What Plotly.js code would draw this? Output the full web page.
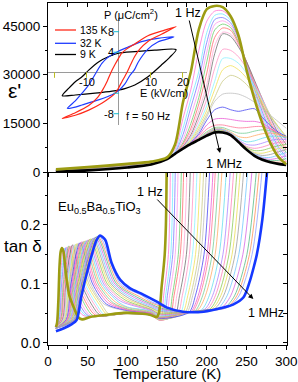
<!DOCTYPE html>
<html><head><meta charset="utf-8">
<script src="https://cdn.plot.ly/plotly-3.0.1.min.js"></script>
<style>html,body{margin:0;padding:0;background:#fff;}#chart{width:298px;height:382px;}</style>
</head><body><div id="chart"></div>
<script>
// ---------- data ----------
const freqLabels = ['1 Hz','1.6 Hz','2.5 Hz','4 Hz','6.3 Hz','10 Hz','16 Hz','25 Hz','40 Hz','63 Hz','100 Hz','160 Hz','250 Hz','400 Hz','630 Hz','1 kHz','1.6 kHz','2.5 kHz','4 kHz','6.3 kHz','10 kHz','16 kHz','25 kHz','40 kHz','63 kHz','100 kHz','160 kHz','250 kHz','400 kHz','630 kHz','1 MHz'];

// epsilon' (top panel), common temperature grid (K)
const epsT = [10,50,100,130,150,160,170,180,190,200,210,220,230,240,250,260,270,280,290,300];
const epsCurves = [
 [800,1500,2500,3200,4500,8500,21500,31000,44000,50200,51200,50800,48000,42000,31500,22500,15000,9000,4700,2400],
 [780,1470,2460,3170,4450,7000,16500,25500,37500,46500,49600,49700,47500,42000,32500,24000,16500,10500,6000,3200],
 [750,1430,2430,3140,4430,6300,13500,22500,31000,43000,48300,48700,46800,41500,33000,25000,17500,11500,7000,3900],
 [730,1400,2390,3110,4400,6000,11500,20000,28500,40000,47000,47600,46000,41000,33500,25800,18500,12500,7800,4600],
 [710,1370,2350,3080,4380,5800,10000,17500,25500,37000,45500,46600,45200,40500,33800,26500,19500,13500,8700,5300],
 [680,1330,2320,3050,4350,5700,9000,15000,23000,34000,43800,45600,44500,40000,34000,27000,20300,14500,9600,6000],
 [660,1300,2280,3020,4330,5600,8500,13500,21000,30500,41500,44400,43700,39500,34000,27500,21000,15300,10500,6800],
 [640,1270,2240,2990,4300,5600,8000,12500,19000,27000,39000,43100,42500,39000,34000,28000,21800,16000,11300,7600],
 [610,1230,2210,2960,4280,5600,7800,11500,17500,25000,36500,42600,41800,38500,34000,28300,22500,16800,12000,8500],
 [590,1200,2170,2930,4250,5600,7600,11000,16000,22500,32000,37800,37500,35500,32000,27500,22500,17500,13000,9500],
 [570,1170,2130,2900,4230,5600,7500,10500,14700,20500,28000,35000,35000,33500,30500,26500,22000,17500,13500,10000],
 [540,1130,2100,2870,4200,5600,7400,10000,14000,19000,25500,31500,32800,31500,29000,25500,21500,17500,14000,10500],
 [520,1100,2060,2840,4180,5600,7300,9600,13200,17800,23000,28000,29800,29000,27000,24000,20500,17000,14000,11000],
 [500,1070,2030,2810,4150,5600,7300,9300,12500,17000,21800,24000,24300,24000,23000,21500,19500,17500,15500,13500],
 [470,1030,1990,2780,4130,5600,7300,9100,11800,16000,19200,20000,19200,18700,19200,19500,16800,14300,12300,11000],
 [450,1000,1960,2750,4100,5600,7300,9000,11300,14500,16300,16500,16200,15800,15600,15600,15000,13500,11800,10300],
 [430,970,1920,2720,4080,5600,7300,8900,10800,13200,14400,14500,14000,13600,13700,14000,14000,13200,12000,10500],
 [400,930,1880,2690,4050,5600,7300,8800,10500,12400,13700,13700,12800,12000,12000,12600,13000,12700,11800,10600],
 [380,900,1840,2660,4030,5600,7300,8800,10300,12000,13400,13300,12300,10900,10600,11200,11800,12000,11600,10800],
 [360,870,1800,2630,4020,5600,7250,8750,10200,11800,13200,13100,12000,10300,9300,9600,10400,11000,11000,10600],
 [330,830,1770,2600,4000,5600,7250,8750,10100,11700,13000,12900,11900,9900,8500,8300,8900,9700,10100,10000],
 [310,800,1730,2570,4000,5600,7200,8700,10000,11600,12900,12800,11800,9700,7900,7300,7700,8500,9100,9300],
 [290,770,1690,2540,4000,5600,7200,8700,10000,11500,12800,12700,11700,9600,7600,6600,6700,7400,8100,8500],
 [260,730,1660,2510,4000,5600,7200,8700,9950,11400,12700,12600,11700,9500,7400,6000,5800,6400,7200,7700],
 [240,700,1620,2480,4000,5600,7200,8700,9950,11400,12600,12500,11600,9400,7300,5700,5100,5400,6200,6900],
 [220,670,1580,2450,4000,5600,7200,8700,9950,11300,12500,12500,11600,9400,7200,5500,4600,4500,5200,6000],
 [190,630,1550,2420,4000,5600,7200,8700,9900,11300,12400,12400,11500,9300,7100,5300,4300,3900,4300,5000],
 [170,600,1510,2390,4000,5600,7200,8700,9900,11300,12400,12400,11500,9300,7000,5200,4100,3500,3600,4100],
 [150,570,1470,2360,4000,5600,7200,8700,9900,11200,12300,12300,11500,9200,7000,5100,3900,3200,3000,3300],
 [120,530,1440,2330,4000,5600,7200,8700,9900,11200,12300,12300,11400,9200,6900,5000,3800,3100,2700,2700],
 [100,500,1400,2300,4000,5600,7200,8700,9900,11200,12200,12200,11400,9200,6900,5000,3800,3000,2500,2200]
];

// tan delta (bottom panel): temperatures and values per frequency
const tanT = [
 [10,11.5,13,14.5,16,17.5,19.5,21.5,23.5,27,32,38,43,53,75,95,115,128,137,139.5,141.5,143,145,147,148.5,149.5],
 [10,12.8,15.1,19.6,25.8,35.4,45.4,100,130,141.7,145.6,151.6,154.1],
 [10,13.6,16.1,21.2,28.2,38.4,48.4,100,130,144,148.1,154.6,157.4],
 [10,14.4,17.2,22.8,30.5,41.3,51.3,100,130,145.8,150.3,157.1,160.4],
 [10,15.2,18.3,24.4,32.8,44.2,54.2,100,130,140,148.2,153.1,160.2,163.9],
 [10,16,19.3,26,35.2,47.2,57.2,100,130,140,151.4,156.5,164.1,168.1],
 [10,16.8,20.4,27.6,37.5,50.1,60.1,100,130,140,153.2,158.7,166.6,171],
 [10,17.6,21.5,29.2,39.8,53,63,100,130,140,156.3,162.2,170.4,175.2],
 [10,18.4,22.5,30.8,42.2,56,66,100,130,140,159.5,165.6,174.3,179.4],
 [10,19.2,23.6,32.4,44.5,58.9,68.9,100,130,140,162.6,169.1,178.1,183.7],
 [10,20,24.7,34,46.8,61.8,71.8,100,130,140,165.7,172.6,181.9,187.9],
 [10,20.8,25.7,35.6,49.2,64.8,74.8,100,130,140,168.9,176,185.8,192.1],
 [10,21.6,26.8,37.2,51.5,67.7,77.7,100,130,140,172,179.5,189.6,196.3],
 [10,22.4,27.9,38.8,53.8,70.6,100,130,140,174.3,182.2,192.6,199.7],
 [10,23.2,28.9,40.4,56.2,73.6,100,130,140,177.5,185.6,196.5,203.9],
 [10,24,30,42,58.5,76.5,100,130,140,170,180.6,189.1,200.3,208.2],
 [10,24.8,31.1,43.6,60.8,79.4,100,130,140,170,182.4,191.3,202.8,211.1],
 [10,25.6,32.1,45.2,63.2,82.4,100,130,140,170,185.6,194.7,206.7,215.3],
 [10,26.4,33.2,46.8,65.5,85.3,100,130,140,170,188.7,198.2,210.5,219.5],
 [10,27.2,34.3,48.4,67.8,88.2,100,130,140,170,193.1,203,215.6,225],
 [10,28,35.3,50,70.2,91.2,130,140,170,197.1,207.2,220.3,230],
 [10,28.8,36.4,51.6,72.5,94.1,130,140,170,200.2,210.7,224.1,234.3],
 [10,29.6,37.5,53.2,74.8,97,130,140,170,203.3,214.2,227.9,238.5],
 [10,30.4,38.5,54.8,77.2,100,130,140,170,206.5,217.6,231.8,242.7],
 [10,31.2,39.6,56.4,79.5,102.9,130,140,170,209.6,221.1,235.6,246.9],
 [10,32,40.7,58,81.8,105.8,130,140,170,200,213.6,225.5,240.3,252],
 [10,32.8,41.7,59.6,84.2,108.8,130,140,170,200,218,230.1,245.4,257.4],
 [10,33.6,42.8,61.2,86.5,111.7,130,140,170,200,222.4,234.9,250.5,263],
 [10,34.4,43.9,62.8,88.8,114.6,130,140,170,200,224.9,237.8,253.7,266.6],
 [10,35.2,44.9,64.4,91.2,117.6,130,140,170,200,227.5,240.6,257,270.2],
 [10,20,30,36,42,49,57,61,65.5,72,80,91,103,120,137,150,170,196,221,233,246,254,259,263,270,276.5]
];
const tanV = [
 [0.027,0.035,0.07,0.13,0.155,0.161,0.155,0.13,0.107,0.08,0.062,0.044,0.04,0.044,0.048,0.051,0.05,0.048,0.044,0.05,0.068,0.094,0.12,0.15,0.2,0.30],
 [0.025,0.04,0.10,0.161,0.10,0.062,0.046,0.05,0.047,0.040,0.08,0.15,0.30],
 [0.025,0.04,0.10,0.161,0.10,0.062,0.046,0.05,0.047,0.040,0.08,0.15,0.30],
 [0.025,0.04,0.10,0.162,0.10,0.062,0.046,0.05,0.047,0.041,0.08,0.15,0.30],
 [0.025,0.04,0.10,0.163,0.10,0.062,0.046,0.05,0.047,0.039,0.041,0.08,0.15,0.30],
 [0.025,0.04,0.10,0.164,0.10,0.063,0.046,0.05,0.047,0.039,0.043,0.08,0.15,0.30],
 [0.025,0.04,0.10,0.164,0.10,0.063,0.047,0.05,0.047,0.039,0.043,0.08,0.15,0.30],
 [0.025,0.04,0.10,0.165,0.10,0.063,0.047,0.051,0.047,0.039,0.045,0.08,0.15,0.30],
 [0.025,0.04,0.10,0.166,0.10,0.063,0.047,0.051,0.048,0.040,0.046,0.08,0.15,0.30],
 [0.025,0.04,0.10,0.166,0.10,0.064,0.047,0.051,0.048,0.040,0.047,0.08,0.15,0.30],
 [0.025,0.04,0.10,0.167,0.10,0.064,0.047,0.052,0.048,0.040,0.048,0.08,0.15,0.30],
 [0.025,0.04,0.10,0.168,0.10,0.065,0.048,0.052,0.048,0.040,0.050,0.08,0.15,0.30],
 [0.025,0.04,0.10,0.168,0.10,0.065,0.048,0.053,0.049,0.041,0.051,0.08,0.15,0.30],
 [0.025,0.04,0.10,0.169,0.10,0.066,0.054,0.049,0.041,0.051,0.08,0.15,0.30],
 [0.025,0.04,0.10,0.170,0.10,0.066,0.055,0.050,0.042,0.052,0.08,0.15,0.30],
 [0.025,0.04,0.10,0.171,0.10,0.067,0.056,0.050,0.043,0.050,0.054,0.08,0.15,0.30],
 [0.025,0.04,0.10,0.171,0.10,0.068,0.057,0.051,0.043,0.050,0.054,0.08,0.15,0.30],
 [0.025,0.04,0.10,0.172,0.10,0.068,0.058,0.052,0.044,0.050,0.055,0.08,0.15,0.30],
 [0.025,0.04,0.10,0.173,0.10,0.069,0.060,0.053,0.045,0.050,0.056,0.08,0.15,0.30],
 [0.025,0.04,0.10,0.173,0.10,0.070,0.061,0.054,0.046,0.051,0.056,0.08,0.15,0.30],
 [0.025,0.04,0.10,0.174,0.10,0.071,0.055,0.048,0.051,0.057,0.08,0.15,0.30],
 [0.025,0.04,0.10,0.175,0.10,0.072,0.056,0.049,0.051,0.057,0.08,0.15,0.30],
 [0.025,0.04,0.10,0.176,0.10,0.073,0.057,0.050,0.052,0.057,0.08,0.15,0.30],
 [0.025,0.04,0.10,0.176,0.10,0.074,0.059,0.052,0.052,0.058,0.08,0.15,0.30],
 [0.025,0.04,0.10,0.177,0.10,0.075,0.060,0.054,0.052,0.058,0.08,0.15,0.30],
 [0.025,0.04,0.10,0.178,0.10,0.076,0.062,0.056,0.053,0.056,0.058,0.08,0.15,0.30],
 [0.025,0.04,0.10,0.179,0.10,0.077,0.064,0.058,0.053,0.056,0.059,0.08,0.15,0.30],
 [0.025,0.04,0.10,0.180,0.10,0.078,0.066,0.060,0.053,0.056,0.060,0.08,0.15,0.30],
 [0.025,0.04,0.10,0.180,0.10,0.079,0.068,0.063,0.053,0.055,0.060,0.08,0.15,0.30],
 [0.025,0.04,0.10,0.181,0.10,0.081,0.070,0.065,0.053,0.054,0.061,0.08,0.15,0.30],
 [0.02,0.025,0.032,0.039,0.079,0.119,0.158,0.174,0.182,0.175,0.136,0.107,0.093,0.082,0.07,0.06,0.053,0.053,0.06,0.065,0.077,0.104,0.128,0.15,0.21,0.30]
];

// inset hysteresis loops P (uC/cm2) vs E (kV/cm), f = 50 Hz
const loop135E = [18,14.4,9.2,5.1,2.5,1,0,-1.1,-2.4,-3.5,-5,-6.5,-9.3,-13.5,-17.6,-13.5,-9.3,-5.1,-2.5,-1,0,1.1,2.6,3.8,5.1,6.5,9.2,13.4,18];
const loop135P = [9.0,8.3,7.2,5.6,4.6,3.8,2.8,1.6,0,-1.6,-3.4,-4.8,-6.4,-7.8,-8.9,-8.3,-7.3,-5.9,-4.8,-4.0,-3.0,-1.7,0,1.6,3.2,4.5,6.1,7.5,9.0];
const loop32E = [17.3,12.3,7.2,3,0,-2,-3.5,-5.2,-7.3,-9.3,-11.4,-13.5,-16,-13.5,-11.4,-6.25,-2,0,2,3.5,5,6.1,9.2,12.3,17.3];
const loop32P = [7.0,6.7,6.05,5.0,4.2,3.5,2.9,1.8,-0.3,-2.4,-4.0,-5.5,-6.95,-6.7,-6.3,-5.3,-4.3,-3.5,-2.2,-0.6,0.6,2.0,4.6,6.0,7.0];
const loop9E = [18,11.3,5.1,0,-3.2,-6.25,-9.3,-11.4,-13.5,-15.5,-17.6,-13.5,-7.3,-2,2,5.1,9.2,13.4,16,18];
const loop9P = [4.5,4.4,4.1,3.8,3.1,2.1,0.5,-0.8,-1.75,-3.0,-4.5,-4.35,-4.0,-3.6,-3.1,-2.4,-0.8,1.5,3.0,4.5];
const insetETicks = [-20,-10,10,20];
const insetPTicks = [-8,-4,4,8];
const tanTickVals = [0, 0.1, 0.2];
const tanTickText = ['0.0', '0.1', '0.2'];
const epsTickVals = [0, 15000, 30000, 45000];
const epsTickText = ['0', '15000', '30000', '45000'];

// ---------- styles ----------
const thinColors = ['#ff70d0','#70e8ff','#7878ff','#ff94ea','#66cc66','#ff6666','#ffa4d2','#6a6a6a','#ff90c4','#88f0ff','#f0e050','#c8c880','#bcbcbc','#4040f0','#ea55d4','#ff7090','#70cc90','#ffa860','#60dcec','#a880ff','#ff7cb8','#88c850','#e8dc50','#9a9a9a','#6cc4ff','#d460e4','#50b880','#ff8c50','#8c9cff'];
const OLIVE = '#9c9c12', BLUE = '#1538ff';
const FONT = 'Liberation Sans, Arial, sans-serif';

const traces = [];
const last = freqLabels.length - 1;
for (let i = 1; i < last; i++) {
  traces.push({x: epsT, y: epsCurves[i], xaxis: 'x2', yaxis: 'y2', mode: 'lines', name: freqLabels[i], opacity: 0.85,
    line: {color: thinColors[i-1], width: 0.9, shape: 'spline', smoothing: 0.8}, hoverinfo: 'skip'});
}
traces.push({x: epsT, y: epsCurves[last], xaxis: 'x2', yaxis: 'y2', mode: 'lines', name: freqLabels[last],
  line: {color: '#000', width: 2.6, shape: 'spline', smoothing: 0.8}});
traces.push({x: epsT, y: epsCurves[0], xaxis: 'x2', yaxis: 'y2', mode: 'lines', name: freqLabels[0],
  line: {color: OLIVE, width: 2.6, shape: 'spline', smoothing: 0.8}});
for (let i = 1; i < last; i++) {
  traces.push({x: tanT[i], y: tanV[i], xaxis: 'x', yaxis: 'y', mode: 'lines', name: freqLabels[i], opacity: 0.85,
    line: {color: thinColors[i-1], width: 0.9, shape: 'spline', smoothing: 0.8}, hoverinfo: 'skip'});
}
traces.push({x: tanT[0], y: tanV[0], xaxis: 'x', yaxis: 'y', mode: 'lines', name: freqLabels[0],
  line: {color: OLIVE, width: 2.6, shape: 'spline', smoothing: 0.8}});
traces.push({x: tanT[last], y: tanV[last], xaxis: 'x', yaxis: 'y', mode: 'lines', name: freqLabels[last],
  line: {color: BLUE, width: 2.6, shape: 'spline', smoothing: 0.8}});
// placeholders so the mirror axes are drawn
traces.push({x: [null], y: [null], xaxis: 'x', yaxis: 'y3', mode: 'lines'});
traces.push({x: [null], y: [null], xaxis: 'x2', yaxis: 'y4', mode: 'lines'});
traces.push({x: [null], y: [null], xaxis: 'x3', yaxis: 'y2', mode: 'lines'});
// inset loops
traces.push({x: loop9E, y: loop9P, xaxis: 'x4', yaxis: 'y5', mode: 'lines', line: {color: '#000', width: 1.2, shape: 'spline', smoothing: 0.7}});
traces.push({x: loop32E, y: loop32P, xaxis: 'x4', yaxis: 'y5', mode: 'lines', line: {color: '#1e3cff', width: 1.2, shape: 'spline', smoothing: 0.7}});
traces.push({x: loop135E, y: loop135P, xaxis: 'x4', yaxis: 'y5', mode: 'lines', line: {color: '#ff2a1a', width: 1.2, shape: 'spline', smoothing: 0.7}});
traces.push({x: insetETicks, y: insetETicks.map(() => -0.45), xaxis: 'x4', yaxis: 'y5', mode: 'markers',
  marker: {symbol: 'line-ns-open', size: 4, line: {color: '#777', width: 1}}});
traces.push({x: insetPTicks.map(() => -0.7), y: insetPTicks, xaxis: 'x4', yaxis: 'y5', mode: 'markers',
  marker: {symbol: 'line-ew-open', size: 4, line: {color: '#777', width: 1}}});

// ---------- layout ----------
const ML = 48, MR = 11, MT = 3, MB = 37, W = 298, H = 382;
const PW = W - ML - MR, PH = H - MT - MB;
const px = v => (v - ML) / PW;
const py = v => (H - MB - v) / PH;
const split = py(172);
const TR = [0, 301];
const YB = [-0.0034, 0.2898];
const YT = [0, 52100];
const axBase = {showgrid: false, zeroline: false, showline: true, linecolor: '#000', linewidth: 1, tickcolor: '#000', tickwidth: 1};

const layout = {
  width: W, height: H, margin: {l: ML, r: MR, t: MT, b: MB},
  paper_bgcolor: '#fff', plot_bgcolor: 'rgba(0,0,0,0)', showlegend: false,
  font: {family: FONT, size: 14, color: '#000'},
  xaxis: Object.assign({}, axBase, {domain: [0, 1], anchor: 'y', range: TR, tick0: 0, dtick: 50, ticks: 'outside', ticklen: 4,
    tickfont: {size: 13.5}, minor: {tick0: 0, dtick: 25, ticks: 'outside', ticklen: 2.5, tickcolor: '#000'}}),
  yaxis: Object.assign({}, axBase, {domain: [0, split], anchor: 'x', range: YB, tickmode: 'array', tickvals: tanTickVals, ticktext: tanTickText,
    ticks: 'outside', ticklen: 4, tickfont: {size: 14}, minor: {tickmode: 'linear', tick0: 0, dtick: 0.05, ticks: 'outside', ticklen: 2.5, tickcolor: '#000'}}),
  yaxis3: Object.assign({}, axBase, {overlaying: 'y', side: 'right', anchor: 'x', range: YB, tick0: 0, dtick: 0.05, ticks: 'inside', ticklen: 4, showticklabels: false}),
  xaxis2: Object.assign({}, axBase, {domain: [0, 1], anchor: 'y2', range: TR, tick0: 0, dtick: 25, ticks: 'outside', ticklen: 4, showticklabels: false}),
  yaxis2: Object.assign({}, axBase, {domain: [split, 1], anchor: 'x2', range: YT, tickmode: 'array', tickvals: epsTickVals, ticktext: epsTickText,
    ticks: 'outside', ticklen: 4, tickfont: {size: 13.5}, minor: {tickmode: 'linear', tick0: 0, dtick: 7500, ticks: 'outside', ticklen: 2.5, tickcolor: '#000'}}),
  yaxis4: Object.assign({}, axBase, {overlaying: 'y2', side: 'right', anchor: 'x2', range: YT, tick0: 0, dtick: 7500, ticks: 'inside', ticklen: 4, showticklabels: false}),
  xaxis3: Object.assign({}, axBase, {overlaying: 'x2', side: 'top', anchor: 'y2', range: TR, tick0: 0, dtick: 25, ticks: 'inside', ticklen: 4, showticklabels: false}),
  xaxis4: {domain: [0, px(187)], anchor: 'y5', range: [-22.03, 21.4], showline: false, showticklabels: false, ticks: '', showgrid: false,
    zeroline: true, zerolinecolor: '#9a9a9a', zerolinewidth: 1},
  yaxis5: {domain: [py(125), py(18)], anchor: 'x4', range: [-10.2, 10.67], showline: false, showticklabels: false, ticks: '', showgrid: false,
    zeroline: true, zerolinecolor: '#9a9a9a', zerolinewidth: 1},
  shapes: [
    {type: 'line', xref: 'paper', yref: 'paper', x0: px(55), x1: px(76), y0: py(30), y1: py(30), line: {color: '#ff2a1a', width: 1.3}},
    {type: 'line', xref: 'paper', yref: 'paper', x0: px(55), x1: px(76), y0: py(43.3), y1: py(43.3), line: {color: '#1e3cff', width: 1.3}},
    {type: 'line', xref: 'paper', yref: 'paper', x0: px(55), x1: px(76), y0: py(54.5), y1: py(54.5), line: {color: '#000', width: 1.3}}
  ],
  annotations: []
};
const A = (text, x, y, size, extra) => Object.assign({text: text, x: px(x), y: py(y), xref: 'paper', yref: 'paper', showarrow: false,
  xanchor: 'center', yanchor: 'middle', borderpad: 0, font: {family: FONT, size: size, color: '#000'}}, extra || {});
layout.annotations.push(
  A("ε'", 14, 90, 21),
  A('tan δ', 22.5, 246, 17),
  A('Temperature (K)', 167, 373, 15),
  A('1 MHz', 224, 164, 12.5),
  A('1 MHz', 266, 313, 12.5),
  A('Eu<sub>0.5</sub>Ba<sub>0.5</sub>TiO<sub>3</sub>', 57, 208, 13, {xanchor: 'left'}),
  A('P (μC/cm<sup>2</sup>)', 103, 14, 11, {xanchor: 'left'}),
  A('E (kV/cm)', 163.5, 93.5, 11),
  A('f = 50 Hz', 147.5, 116, 11),
  A('135 K', 79, 30, 10.5, {xanchor: 'left'}),
  A('32 K', 79, 43.3, 10.5, {xanchor: 'left'}),
  A('9 K', 79, 54.5, 10.5, {xanchor: 'left'}),
  A('1 Hz', 220, 153, 12.5, {showarrow: true, ax: -32.5, ay: -140, arrowhead: 2, arrowsize: 1, arrowwidth: 1, arrowcolor: '#000'}),
  A('1 Hz', 253.3, 299, 12.5, {showarrow: true, ax: -103.3, ay: -107, arrowhead: 2, arrowsize: 1, arrowwidth: 1, arrowcolor: '#000'})
);
const tl = (text, x, y, extra) => Object.assign({text: text, x: x, y: y, xref: 'x4', yref: 'y5', showarrow: false, borderpad: 0,
  font: {family: FONT, size: 11, color: '#000'}}, extra);
layout.annotations.push(
  tl('8', -1.0, 8, {xanchor: 'right', yanchor: 'middle'}),
  tl('4', -1.0, 4, {xanchor: 'right', yanchor: 'middle'}),
  tl('-8', -1.0, -8, {xanchor: 'right', yanchor: 'middle'}),
  tl('-10', -10, -0.5, {xanchor: 'center', yanchor: 'top'}),
  tl('10', 10, -0.5, {xanchor: 'center', yanchor: 'top'}),
  tl('20', 20, -0.5, {xanchor: 'center', yanchor: 'top'})
);

Plotly.newPlot('chart', traces, layout, {staticPlot: true});
</script>
</body></html>
